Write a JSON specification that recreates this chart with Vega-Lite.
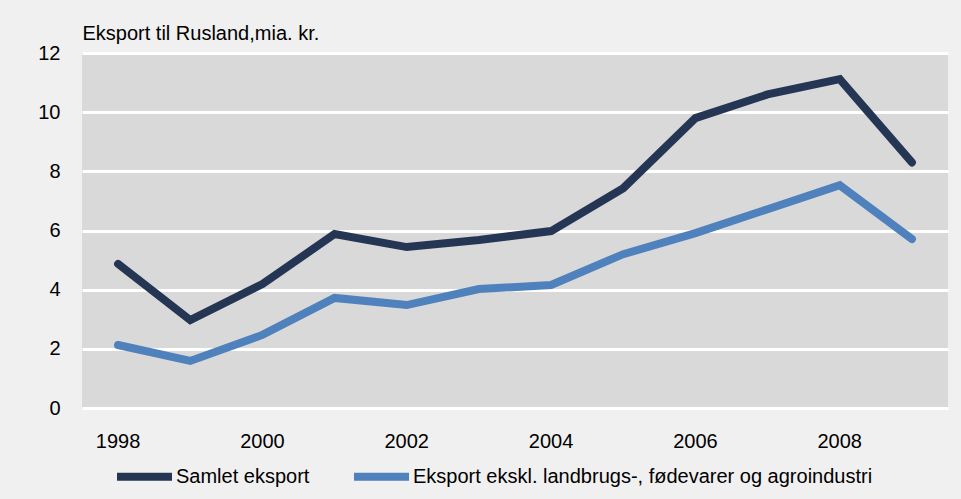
{
  "$schema": "https://vega.github.io/schema/vega-lite/v6.json",
  "width": 866,
  "height": 355,
  "autosize": "none",
  "padding": {"left": 82, "top": 53, "right": 13, "bottom": 91},
  "background": "#f0f0f0",
  "config": {
    "font": "Liberation Sans",
    "view": {"fill": "#d9d9d9", "stroke": null}
  },
  "data": {
    "values": [
      {"year": 1998, "serie": "Samlet eksport", "value": 4.87},
      {"year": 1999, "serie": "Samlet eksport", "value": 2.97},
      {"year": 2000, "serie": "Samlet eksport", "value": 4.19},
      {"year": 2001, "serie": "Samlet eksport", "value": 5.88},
      {"year": 2002, "serie": "Samlet eksport", "value": 5.44},
      {"year": 2003, "serie": "Samlet eksport", "value": 5.68},
      {"year": 2004, "serie": "Samlet eksport", "value": 5.98},
      {"year": 2005, "serie": "Samlet eksport", "value": 7.43},
      {"year": 2006, "serie": "Samlet eksport", "value": 9.8},
      {"year": 2007, "serie": "Samlet eksport", "value": 10.6},
      {"year": 2008, "serie": "Samlet eksport", "value": 11.12},
      {"year": 2009, "serie": "Samlet eksport", "value": 8.3},
      {"year": 1998, "serie": "Eksport ekskl. landbrugs-, fødevarer og agroindustri", "value": 2.13},
      {"year": 1999, "serie": "Eksport ekskl. landbrugs-, fødevarer og agroindustri", "value": 1.59},
      {"year": 2000, "serie": "Eksport ekskl. landbrugs-, fødevarer og agroindustri", "value": 2.47},
      {"year": 2001, "serie": "Eksport ekskl. landbrugs-, fødevarer og agroindustri", "value": 3.72},
      {"year": 2002, "serie": "Eksport ekskl. landbrugs-, fødevarer og agroindustri", "value": 3.48},
      {"year": 2003, "serie": "Eksport ekskl. landbrugs-, fødevarer og agroindustri", "value": 4.02},
      {"year": 2004, "serie": "Eksport ekskl. landbrugs-, fødevarer og agroindustri", "value": 4.16},
      {"year": 2005, "serie": "Eksport ekskl. landbrugs-, fødevarer og agroindustri", "value": 5.2},
      {"year": 2006, "serie": "Eksport ekskl. landbrugs-, fødevarer og agroindustri", "value": 5.91},
      {"year": 2007, "serie": "Eksport ekskl. landbrugs-, fødevarer og agroindustri", "value": 6.72},
      {"year": 2008, "serie": "Eksport ekskl. landbrugs-, fødevarer og agroindustri", "value": 7.53},
      {"year": 2009, "serie": "Eksport ekskl. landbrugs-, fødevarer og agroindustri", "value": 5.71}
    ]
  },
  "mark": {"type": "line", "strokeWidth": 8, "strokeCap": "round", "strokeJoin": "miter"},
  "encoding": {
    "x": {
      "field": "year",
      "type": "ordinal",
      "scale": {"type": "band", "paddingInner": 0, "paddingOuter": 0},
      "axis": {
        "title": null,
        "values": [1998, 2000, 2002, 2004, 2006, 2008],
        "labelAngle": 0,
        "ticks": false,
        "domain": false,
        "grid": false,
        "labelFontSize": 20,
        "labelColor": "#000000",
        "labelPadding": 23
      }
    },
    "y": {
      "field": "value",
      "type": "quantitative",
      "scale": {"domain": [0, 12], "nice": false},
      "axis": {
        "values": [0, 2, 4, 6, 8, 10, 12],
        "title": "Eksport til Rusland,mia. kr.",
        "titleAngle": 0,
        "titleX": 0,
        "titleY": -14,
        "titleAlign": "left",
        "titleBaseline": "alphabetic",
        "titleFontSize": 20,
        "titleFontWeight": "normal",
        "titleColor": "#000000",
        "ticks": false,
        "domain": false,
        "grid": true,
        "gridColor": "#ffffff",
        "gridWidth": 3,
        "gridOpacity": 1,
        "labelFontSize": 20,
        "labelColor": "#000000",
        "labelPadding": 22
      }
    },
    "color": {
      "field": "serie",
      "type": "nominal",
      "sort": ["Samlet eksport", "Eksport ekskl. landbrugs-, fødevarer og agroindustri"],
      "scale": {
        "domain": ["Samlet eksport", "Eksport ekskl. landbrugs-, fødevarer og agroindustri"],
        "range": ["#253655", "#4f81bd"]
      },
      "legend": {
        "title": null,
        "orient": "none",
        "legendX": 31,
        "legendY": 392,
        "direction": "horizontal",
        "columns": 2,
        "columnPadding": 28,
        "symbolType": "stroke",
        "symbolSize": 3025,
        "symbolStrokeWidth": 8,
        "labelFontSize": 20,
        "labelColor": "#000000",
        "labelOffset": 0,
        "labelLimit": 600
      }
    }
  }
}
